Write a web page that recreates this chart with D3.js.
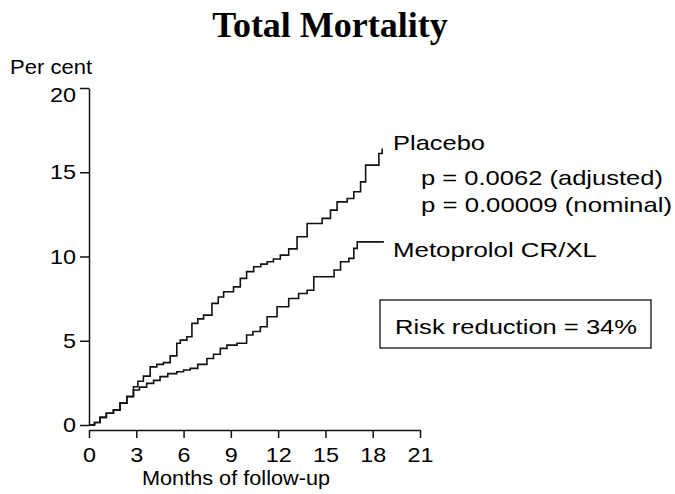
<!DOCTYPE html>
<html>
<head>
<meta charset="utf-8">
<script src="https://cdn.jsdelivr.net/npm/d3@7"></script>
<style>
  body { margin: 0; background: #fff; }
  svg { display: block; }
  text { font-family: "Liberation Sans", Arial, sans-serif; fill: #000; }
</style>
</head>
<body>
<svg width="675" height="494"></svg>
<script>
// cumulative mortality (%)
var placeboMonths = [0, 0.35, 0.7, 1.1, 1.55, 1.97, 2.4, 2.82, 3.1, 3.45, 3.88, 4.3, 4.72, 5.15, 5.57, 5.79, 6.21, 6.53, 6.9, 7.27, 7.8, 8.2, 8.54, 9.17, 9.6, 10.0, 10.45, 10.9, 11.3, 11.7, 12.14, 12.67, 13.2, 13.84, 14.79, 15.32, 15.74, 16.38, 16.8, 17.23, 17.55, 18.39, 18.6];
var placeboPct    = [0, 0.15, 0.45, 0.7, 0.9, 1.3, 1.7, 2.27, 2.6, 2.9, 3.45, 3.6, 3.7, 4.1, 4.85, 5.04, 5.24, 6.03, 6.3, 6.52, 7.22, 7.6, 7.91, 8.2, 8.7, 9.1, 9.39, 9.55, 9.69, 9.85, 10.08, 10.45, 11.17, 11.96, 12.26, 12.75, 13.24, 13.44, 13.84, 14.43, 15.42, 16.11, 16.41];

var metoMonths = [0, 0.35, 0.7, 1.1, 1.55, 1.97, 2.4, 2.82, 3.2, 3.66, 4.1, 4.51, 5.0, 5.57, 6.0, 6.42, 6.9, 7.48, 7.9, 8.33, 8.75, 9.39, 10.0, 10.4, 10.87, 11.3, 11.93, 12.67, 13.3, 13.84, 14.26, 15.55, 15.96, 16.49, 16.8, 17.02, 18.71];
var metoPct    = [0, 0.15, 0.45, 0.7, 0.9, 1.3, 1.68, 2.08, 2.25, 2.47, 2.65, 2.87, 3.05, 3.16, 3.26, 3.36, 3.6, 3.95, 4.2, 4.55, 4.74, 4.85, 5.34, 5.55, 5.83, 6.42, 7.02, 7.51, 7.8, 8.0, 8.8, 9.2, 9.69, 9.89, 10.48, 10.87, 10.87];

var xTicks = [0, 3, 6, 9, 12, 15, 18, 21];
var yTicks = [0, 5, 10, 15, 20];

var svg = d3.select("svg");

var x = d3.scaleLinear().domain([0, 21]).range([89, 420]);
var y = d3.scaleLinear().domain([0, 20]).range([425, 88]);

// title
svg.append("text")
  .attr("x", 330).attr("y", 37)
  .attr("text-anchor", "middle")
  .style("font-family", "'Liberation Serif', 'Times New Roman', serif")
  .style("font-weight", "bold")
  .style("font-size", "36px")
  .attr("fill", "#111")
  .text("Total Mortality");

// y axis
var yAxis = svg.append("g")
  .attr("transform", "translate(89,0)")
  .call(d3.axisLeft(y).tickValues(yTicks).tickSize(9).tickSizeOuter(0).tickPadding(4));

// x axis, slightly below zero
var xAxis = svg.append("g")
  .attr("transform", "translate(0,430)")
  .call(d3.axisBottom(x).tickValues(xTicks).tickSize(8).tickSizeOuter(0).tickPadding(9));

[yAxis, xAxis].forEach(function(g) {
  g.select(".domain").attr("stroke", "#111").attr("stroke-width", 1.5);
  g.selectAll(".tick line").attr("stroke", "#111").attr("stroke-width", 1.5);
  g.selectAll(".tick text")
    .style("font-family", "'Liberation Sans', Arial, sans-serif")
    .style("font-size", "21px")
    .attr("fill", "#000")
    .attr("textLength", function(d) { return String(d).length * 13; })
    .attr("lengthAdjust", "spacingAndGlyphs");
});
yAxis.selectAll(".tick text").filter(function(d) { return d === 20; }).attr("dy", "0.62em");

svg.append("text")
  .attr("x", 10).attr("y", 74)
  .style("font-size", "20px")
  .attr("textLength", 82).attr("lengthAdjust", "spacingAndGlyphs")
  .text("Per cent");

svg.append("text")
  .attr("x", 142).attr("y", 485)
  .style("font-size", "21px")
  .attr("textLength", 188).attr("lengthAdjust", "spacingAndGlyphs")
  .text("Months of follow-up");

// curves
var line = d3.line()
  .x(function(d) { return x(d[0]); })
  .y(function(d) { return y(d[1]); })
  .curve(d3.curveStepAfter);

var series = [
  d3.zip(placeboMonths, placeboPct),
  d3.zip(metoMonths, metoPct)
];

svg.selectAll("path.km")
  .data(series)
  .enter()
  .append("path")
    .attr("class", "km")
    .attr("d", line)
    .attr("fill", "none")
    .attr("stroke", "#111")
    .attr("stroke-width", 1.6);

// labels
var labels = [
  { t: "Placebo", x: 393, y: 150, w: 92 },
  { t: "p = 0.0062 (adjusted)", x: 421, y: 185, w: 242 },
  { t: "p = 0.00009 (nominal)", x: 421, y: 212, w: 251 },
  { t: "Metoprolol CR/XL", x: 393, y: 257, w: 204 },
  { t: "Risk reduction = 34%", x: 395, y: 334, w: 242 }
];

svg.append("rect")
  .attr("x", 380).attr("y", 300)
  .attr("width", 271).attr("height", 48)
  .attr("fill", "none")
  .attr("stroke", "#111")
  .attr("stroke-width", 1.3);

svg.selectAll("text.lab")
  .data(labels)
  .enter()
  .append("text")
    .attr("class", "lab")
    .attr("x", function(d) { return d.x; })
    .attr("y", function(d) { return d.y; })
    .attr("textLength", function(d) { return d.w; })
    .attr("lengthAdjust", "spacingAndGlyphs")
    .style("font-size", "21px")
    .text(function(d) { return d.t; });
</script>
</body>
</html>
